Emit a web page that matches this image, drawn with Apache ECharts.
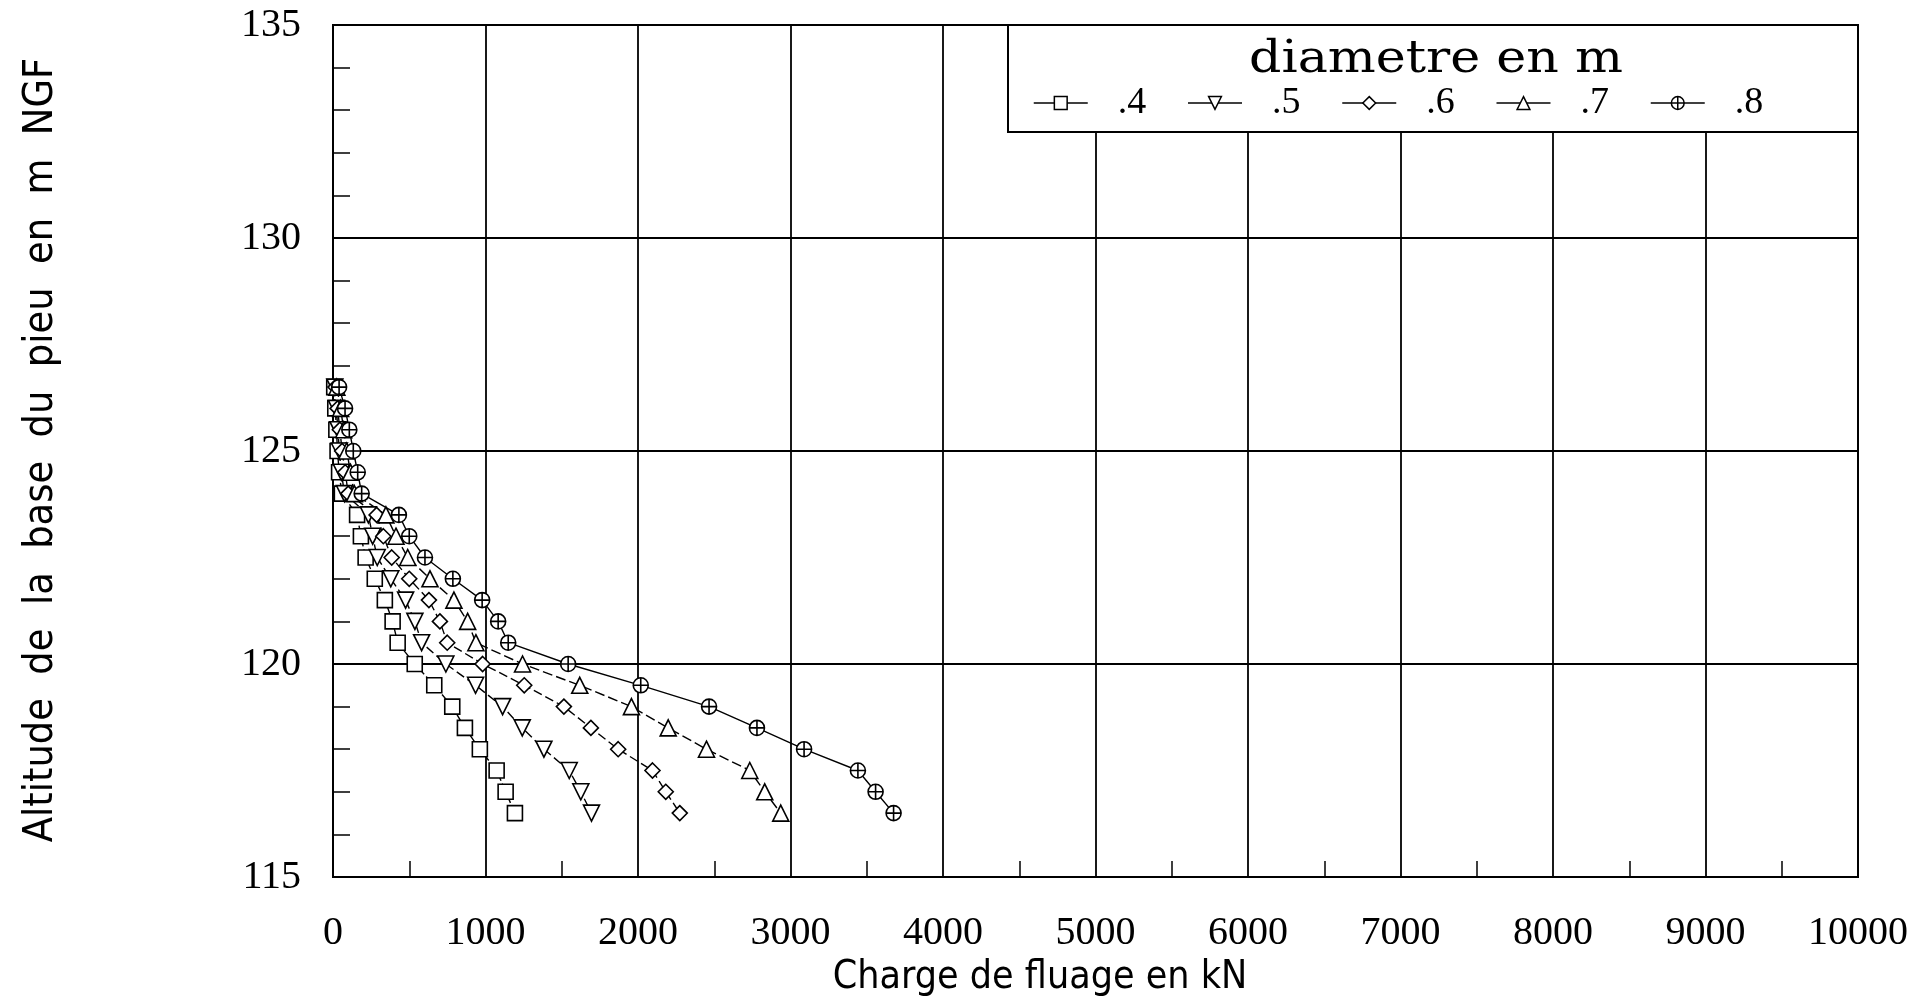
<!DOCTYPE html>
<html><head><meta charset="utf-8">
<script src="https://cdn.jsdelivr.net/npm/echarts@6/dist/echarts.min.js"></script>
<style>html,body{margin:0;padding:0;background:#fff}#c{width:1917px;height:1003px}</style>
</head><body><div id="c"></div>
<script>
// altitude of pile base (m NGF)
const altitudes = [126.5,126,125.5,125,124.5,124,123.5,123,122.5,122,121.5,121,120.5,120,119.5,119,118.5,118,117.5,117,116.5];
// creep load (kN) per diameter
const d04 = [8,15,22,30,40,58,158,183,214,274,340,391,424,536,664,782,865,963,1073,1132,1193];
const d05 = [12,22,32,42,55,75,232,260,290,379,476,537,581,740,935,1112,1241,1383,1549,1625,1695];
const d06 = [16,30,45,60,80,100,286,330,385,500,629,701,749,981,1254,1514,1691,1870,2095,2182,2274];
const d07 = [25,50,70,90,115,140,347,413,490,636,793,883,937,1243,1618,1957,2198,2449,2733,2831,2936];
const d08 = [40,79,107,133,162,188,432,500,603,786,978,1083,1149,1542,2018,2466,2780,3089,3442,3558,3676];
const seriesNames = ['.4','.5','.6','.7','.8'];
const xTickLabels = ['0','1000','2000','3000','4000','5000','6000','7000','8000','9000','10000'];
const yTickLabels = ['115','120','125','130','135'];

const serif = '"Liberation Serif", "DejaVu Serif", serif';
const narrow = '"Liberation Sans Narrow", "DejaVu Sans Condensed", sans-serif';
const ccPath = 'path://M0,-10A10,10,0,1,1,0,10A10,10,0,1,1,0,-10ZM-10,0L10,0M0,-10L0,10';

function pairs(arr){ return arr.map((v,i)=>[v, altitudes[i]]); }
const sets = [d04,d05,d06,d07,d08];
const symbols = ['rect','triangle','diamond','triangle',ccPath];
const rotates = [0,180,0,0,0];
const sizes = [15,16,15,16,15];
const lineTypes = [[9,3],[9,4],[9,4],[10,4],'solid'];

const chart = echarts.init(document.getElementById('c'), null, {renderer:'canvas'});
chart.setOption({
  backgroundColor:'#fff',
  animation:false,
  grid:{left:333, right:59, top:25, bottom:126, show:true, borderColor:'#000', borderWidth:2, backgroundColor:'transparent'},
  xAxis:{type:'value', min:0, max:10000, interval:1000,
    axisLine:{show:true, lineStyle:{color:'#000', width:2}},
    axisTick:{show:false, inside:true},
    minorTick:{show:true, splitNumber:2, length:16, lineStyle:{color:'#000', width:1.5}},
    splitLine:{show:true, lineStyle:{color:'#000', width:1.8}},
    axisLabel:{margin:36, color:'#000', fontFamily:serif, fontSize:40,
      formatter:(v)=>xTickLabels[Math.round(v/1000)]}
  },
  yAxis:{type:'value', min:115, max:135, interval:5,
    axisLine:{show:true, lineStyle:{color:'#000', width:2}},
    axisTick:{show:false, inside:true},
    minorTick:{show:true, splitNumber:5, length:17, lineStyle:{color:'#000', width:1.5}},
    splitLine:{show:true, lineStyle:{color:'#000', width:1.8}},
    axisLabel:{margin:32, color:'#000', fontFamily:serif, fontSize:40,
      formatter:(v)=>yTickLabels[Math.round((v-115)/5)]}
  },
  legend:{
    show:true, z:60, left:1033, top:84, padding:0, itemGap:41, itemWidth:54, itemHeight:16,
    data:seriesNames,
    textStyle:{color:'#000', fontFamily:serif, fontSize:38, padding:[0,0,0,25]},
    itemStyle:{borderWidth:1.5},
    lineStyle:{type:'solid', width:1.5}
  },
  series: sets.map((arr,i)=>({
    name:seriesNames[i], type:'line', data:pairs(arr),
    symbol:symbols[i], symbolRotate:rotates[i], symbolSize:sizes[i],
    showSymbol:true,
    itemStyle:{color:'#fff', borderColor:'#000', borderWidth:1.6},
    lineStyle:{color:'#000', width:1.4, type:lineTypes[i]},
    z:3
  })),
  graphic:[
    {type:'rect', z:50, shape:{x:1008, y:25, width:850, height:107},
      style:{fill:'#fff', stroke:'#000', lineWidth:2}},
    {type:'text', z:55, x:1436, y:61, scaleX:1.15, style:{text:'diametre en m', fill:'#000', font:'44px "DejaVu Serif", serif', textAlign:'center', textVerticalAlign:'middle'}},
    {type:'text', z:55, x:41, y:450, rotation:Math.PI/2, style:{text:'Altitude  de  la  base  du  pieu  en  m  NGF', fill:'#000', font:'41px '+narrow, textAlign:'center', textVerticalAlign:'middle'}},
    {type:'text', z:55, x:1040, y:978, style:{text:'Charge de fluage en kN', fill:'#000', font:'39px '+narrow, textAlign:'center', textVerticalAlign:'middle'}}
  ]
});
</script></body></html>
